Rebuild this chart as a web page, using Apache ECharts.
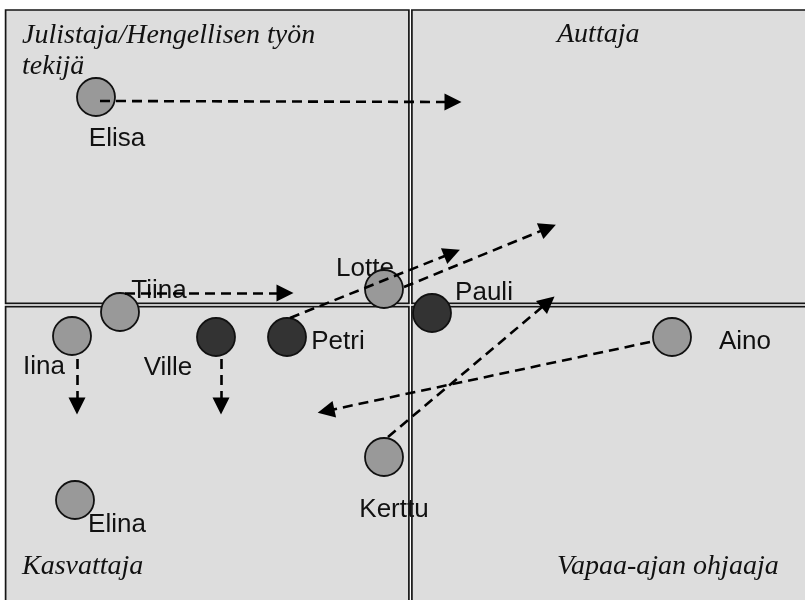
<!DOCTYPE html>
<html>
<head>
<meta charset="utf-8">
<script src="https://cdn.jsdelivr.net/npm/echarts@6/dist/echarts.min.js"></script>
<style>
  html, body { margin: 0; padding: 0; background: #fff; }
  #chart { width: 805px; height: 600px; }
</style>
</head>
<body>
<div id="chart"></div>
<script>
// henkilöt ja niiden sijainti nelikentässä
var names  = ['Elisa', 'Tiina', 'Iina', 'Ville', 'Petri', 'Lotte', 'Pauli', 'Aino', 'Kerttu', 'Elina'];
var xVals  = [96, 120, 72, 216, 287, 384, 432, 672, 384, 75];
var yVals  = [97, 312, 336, 337, 337, 289, 313, 337, 457, 500];
var shades = ['light', 'light', 'light', 'dark', 'dark', 'light', 'dark', 'light', 'light', 'light'];

// siirtymät (nuolet): alku- ja loppupiste
var arrowNames = ['Elisa', 'Tiina', 'Iina', 'Ville', 'Petri', 'Lotte', 'Kerttu', 'Aino'];
var arrowX0 = [100, 125, 77, 221, 290, 404, 388, 650];
var arrowY0 = [101, 293, 359, 359, 318, 287, 437, 342];
var arrowX1 = [453, 285, 77, 221, 452, 548, 548, 326];
var arrowY1 = [102, 293, 406, 406, 253, 228, 302, 411];

// kenttien otsikot
var quadrantTitles = ['Julistaja/Hengellisen työn\ntekijä', 'Auttaja', 'Kasvattaja', 'Vapaa-ajan ohjaaja'];

// layout / styles
var panels = [
	[5.6, 10, 408.9, 303.3],
	[411.9, 10, 840, 303.3],
	[5.6, 306.7, 408.9, 640],
	[411.9, 306.7, 840, 640]
];
var labelOffsets = {
	Elisa: [21, 42], Tiina: [39, -21], Iina: [-28, 31], Ville: [-48, 31], Petri: [51, 5],
	Lotte: [-19, -20], Pauli: [52, -20], Aino: [73, 5], Kerttu: [10, 53], Elina: [42, 25]
};
var shadeColors = { light: '#999999', dark: '#333333' };
var nameFont = '26px "Liberation Sans", Arial, sans-serif';
var titleFont = 'italic 28px "Liberation Serif", "Times New Roman", serif';

var myChart = echarts.init(document.getElementById('chart'));

function panelItem(fill, stroke) {
	return function (params, api) {
		var p0 = api.coord([api.value(0), api.value(1)]);
		var p1 = api.coord([api.value(2), api.value(3)]);
		return {
			type: 'rect',
			shape: { x: p0[0], y: p0[1], width: p1[0] - p0[0], height: p1[1] - p0[1] },
			style: { fill: fill, stroke: stroke, lineWidth: 1.7 },
			silent: true
		};
	};
}

var pointData = names.map(function (n, i) {
	return { name: n, value: [xVals[i], yVals[i]], itemStyle: { color: shadeColors[shades[i]] } };
});
var arrowData = arrowNames.map(function (n, i) {
	return { name: n, coords: [[arrowX0[i], arrowY0[i]], [arrowX1[i], arrowY1[i]]] };
});

var option = {
	backgroundColor: '#ffffff',
	animation: false,
	grid: { left: 0, right: 0, top: 0, bottom: 0 },
	xAxis: { type: 'value', min: 0, max: 805, show: false },
	yAxis: { type: 'value', min: 0, max: 600, inverse: true, show: false },
	graphic: [
		{ type: 'text', left: 22, top: 20, z: 10,
			style: { text: quadrantTitles[0], font: titleFont, fill: '#111', lineHeight: 31 } },
		{ type: 'text', left: 557, top: 21, z: 10,
			style: { text: quadrantTitles[1], font: titleFont, fill: '#111' } },
		{ type: 'text', left: 22, top: 553, z: 10,
			style: { text: quadrantTitles[2], font: titleFont, fill: '#111' } },
		{ type: 'text', left: 557, top: 553, z: 10,
			style: { text: quadrantTitles[3], font: titleFont, fill: '#111' } }
	],
	series: [
		{
			type: 'custom',
			z: 0,
			renderItem: panelItem('#dddddd', null),
			encode: { x: [0, 2], y: [1, 3] },
			data: panels
		},
		{
			type: 'custom',
			z: 1,
			renderItem: function (params, api) {
				var p = api.coord([api.value(0), api.value(1)]);
				var off = labelOffsets[names[params.dataIndex]];
				return {
					type: 'text',
					x: p[0] + off[0],
					y: p[1] + off[1],
					style: {
						text: names[params.dataIndex], font: nameFont, fill: '#111',
						align: 'center', verticalAlign: 'middle'
					},
					silent: true
				};
			},
			data: names.map(function (n, i) { return [xVals[i], yVals[i]]; })
		},
		{
			type: 'custom',
			z: 2,
			renderItem: panelItem('none', '#151515'),
			encode: { x: [0, 2], y: [1, 3] },
			data: panels
		},
		{
			type: 'scatter',
			z: 3,
			symbol: 'circle',
			symbolSize: 38,
			itemStyle: { borderColor: '#111', borderWidth: 1.8, opacity: 1 },
			label: { show: false },
			emphasis: { disabled: true },
			data: pointData
		},
		{
			type: 'lines',
			coordinateSystem: 'cartesian2d',
			z: 4,
			symbol: ['none', 'triangle'],
			symbolSize: 17,
			lineStyle: { color: '#000', width: 2.6, type: [10, 6], opacity: 1, curveness: 0 },
			emphasis: { disabled: true },
			data: arrowData
		}
	]
};
myChart.setOption(option);
</script>
</body>
</html>
